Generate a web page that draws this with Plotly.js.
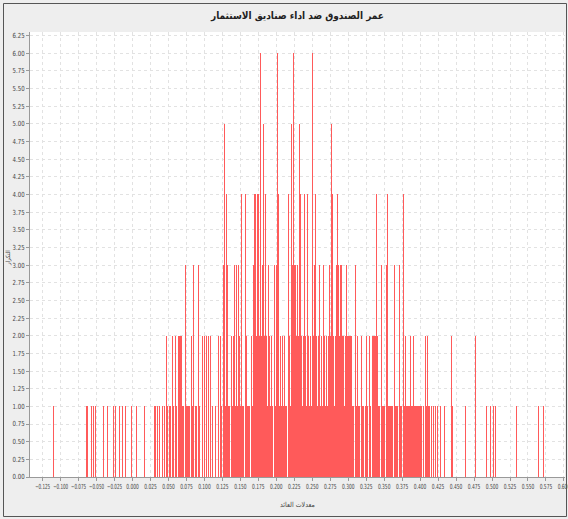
<!DOCTYPE html>
<html>
<head>
<meta charset="utf-8">
<script src="https://cdn.plot.ly/plotly-3.0.1.min.js"></script>
<style>
  html, body { margin: 0; padding: 0; background: #eeeeee; }
  #chart { width: 568px; height: 519px; }
</style>
</head>
<body>
<div id="chart"></div>
<script>
// ---- data ----
const chartTitle = "عمر الصندوق ضد اداء صناديق الاستثمار";
const xAxisTitle = "معدلات العائد";
const yAxisTitle = "التكرار";

const returns = [
 -0.1093,-0.0635,-0.0621,-0.0565,-0.0538,-0.0510,-0.0399,-0.0343,-0.0260,-0.0232,
 -0.0176,-0.0135,-0.0093,-0.0010,0.0060,0.0171,0.0310,0.0324,0.0351,0.0379,
 0.0421,0.0449,0.0476,0.0490,0.0518,0.0532,0.0560,0.0574,0.0601,0.0615,
 0.0643,0.0657,0.0671,0.0685,0.0699,0.0713,0.0740,0.0754,0.0768,0.0782,
 0.0796,0.0824,0.0838,0.0851,0.0879,0.0893,0.0921,0.0935,0.0976,0.1004,
 0.1032,0.1060,0.1088,0.1115,0.1157,0.1199,0.1226,0.1240,0.1268,0.1282,
 0.1296,0.1310,0.1324,0.1338,0.1351,0.1379,0.1393,0.1407,0.1421,0.1435,
 0.1449,0.1463,0.1476,0.1490,0.1504,0.1518,0.1532,0.1546,0.1574,0.1588,
 0.1601,0.1615,0.1629,0.1657,0.1671,0.1685,0.1699,0.1713,0.1726,0.1740,
 0.1754,0.1768,0.1782,0.1796,0.1810,0.1824,0.1838,0.1851,0.1865,0.1879,
 0.1893,0.1907,0.1921,0.1935,0.1949,0.1976,0.1990,0.2004,0.2018,0.2032,
 0.2046,0.2060,0.2074,0.2088,0.2101,0.2115,0.2129,0.2143,0.2171,0.2185,
 0.2199,0.2213,0.2226,0.2240,0.2254,0.2268,0.2282,0.2296,0.2310,0.2324,
 0.2338,0.2351,0.2365,0.2379,0.2393,0.2407,0.2421,0.2435,0.2449,0.2463,
 0.2476,0.2490,0.2504,0.2518,0.2532,0.2546,0.2560,0.2574,0.2588,0.2601,
 0.2615,0.2629,0.2643,0.2657,0.2671,0.2685,0.2699,0.2713,0.2726,0.2740,
 0.2754,0.2768,0.2782,0.2796,0.2810,0.2824,0.2838,0.2851,0.2865,0.2879,
 0.2893,0.2907,0.2921,0.2935,0.2949,0.2963,0.2976,0.2990,0.3004,0.3018,
 0.3032,0.3046,0.3060,0.3074,0.3101,0.3115,0.3129,0.3143,0.3157,0.3185,
 0.3199,0.3213,0.3240,0.3254,0.3268,0.3296,0.3310,0.3338,0.3351,0.3365,
 0.3379,0.3393,0.3407,0.3421,0.3435,0.3463,0.3476,0.3490,0.3504,0.3532,
 0.3546,0.3560,0.3574,0.3588,0.3601,0.3615,0.3643,0.3657,0.3671,0.3685,
 0.3713,0.3726,0.3740,0.3768,0.3782,0.3796,0.3810,0.3824,0.3838,0.3851,
 0.3865,0.3879,0.3893,0.3907,0.3921,0.3935,0.3949,0.3963,0.3976,0.3990,
 0.4004,0.4018,0.4046,0.4074,0.4088,0.4101,0.4115,0.4129,0.4157,0.4185,
 0.4213,0.4240,0.4282,0.4338,0.4435,0.4449,0.4629,0.4768,0.4921,0.4976,
 0.5018,0.5046,0.5338,0.5643,0.5713
];
const counts = [
 1,1,1,1,1,1,1,1,1,1,
 1,1,1,1,1,1,1,1,1,1,
 1,1,2,1,1,1,2,1,2,1,
 2,2,2,2,1,1,3,1,1,1,
 1,2,1,3,1,1,3,1,2,2,
 2,2,2,1,1,2,2,1,3,5,
 1,4,3,1,1,2,1,2,3,1,
 3,1,3,2,1,4,1,1,4,2,
 1,1,1,2,1,3,4,4,2,4,
 4,2,6,2,3,5,2,4,2,1,
 3,2,1,2,1,3,1,3,6,4,
 1,2,1,2,1,2,1,1,4,2,
 1,5,3,6,3,3,2,3,2,5,
 4,2,1,2,4,2,1,4,2,1,
 2,1,6,2,3,4,2,1,2,3,
 1,2,1,3,2,1,2,1,2,3,
 2,5,4,2,1,2,3,4,3,2,
 3,3,2,2,1,2,3,2,2,2,
 2,2,1,1,3,1,2,1,1,2,
 1,1,1,2,1,2,1,2,2,2,
 2,4,2,1,1,3,1,1,1,3,
 4,1,1,1,1,1,3,1,1,1,
 3,1,1,4,1,2,1,1,1,1,
 2,1,1,2,1,1,1,1,1,1,
 1,1,1,2,1,2,1,1,1,1,
 1,1,1,1,2,1,1,2,1,1,
 1,1,1,1,1
];
const xTickStart = -0.125, xTickStep = 0.025;
const yTickStep = 0.25;

// ---- figure geometry ----
const W = 568, H = 519;
const M = {l: 30, r: 3, t: 32, b: 42};
const pw = W - M.l - M.r, ph = H - M.t - M.b;
const px2paperX = p => (p - M.l) / pw;
const px2paperY = p => (H - M.b - p) / ph;

const tickFont = {family: "'DejaVu Sans Condensed', 'Liberation Sans Narrow', sans-serif", size: 7, color: '#444444'};

const trace = {
  type: 'bar',
  x: returns,
  y: counts,
  width: 0.0015,
  marker: {color: '#ff5a5a', line: {width: 0}},
  hoverinfo: 'x+y'
};

const layout = {
  width: W, height: H,
  margin: M,
  paper_bgcolor: '#eeeeee',
  plot_bgcolor: '#ffffff',
  showlegend: false,
  bargap: 0,
  title: {
    text: '<b>' + chartTitle + '</b>',
    x: 0.5, xref: 'paper', y: 1 - 15 / H, yanchor: 'middle',
    font: {family: "'DejaVu Sans Condensed', 'DejaVu Sans', 'Noto Sans', sans-serif", size: 10, color: '#222222'}
  },
  xaxis: {
    range: [-0.1426, 0.6015],
    tick0: xTickStart, dtick: xTickStep,
    tickformat: '.3f',
    tickangle: 0,
    ticklabeloverflow: 'allow',
    tickfont: tickFont,
    ticks: 'outside', ticklen: 3, tickcolor: '#999999',
    showgrid: true, gridcolor: '#e2e2e2', griddash: 'dot', gridwidth: 1,
    showline: true, linecolor: '#999999', linewidth: 1,
    zeroline: false,
    automargin: false
  },
  yaxis: {
    range: [0, 6.3],
    tick0: 0, dtick: yTickStep,
    tickformat: '.2f',
    tickangle: 0,
    tickfont: tickFont,
    ticks: 'outside', ticklen: 3, tickcolor: '#999999',
    showgrid: true, gridcolor: '#e2e2e2', griddash: 'dot', gridwidth: 1,
    showline: true, linecolor: '#999999', linewidth: 1,
    zeroline: false,
    automargin: false
  },
  annotations: [
    {text: xAxisTitle, xref: 'paper', yref: 'paper', x: 0.5, y: px2paperY(505),
     xanchor: 'center', yanchor: 'middle', showarrow: false,
     font: {family: "'DejaVu Sans Condensed', 'DejaVu Sans', sans-serif", size: 7, color: '#444444'}},
    {text: yAxisTitle, xref: 'paper', yref: 'paper', x: px2paperX(8), y: px2paperY(258),
     xanchor: 'center', yanchor: 'middle', textangle: -90, showarrow: false,
     font: {family: "'DejaVu Sans Condensed', 'DejaVu Sans', sans-serif", size: 6, color: '#444444'}}
  ],
  shapes: [
    {type: 'rect', xref: 'paper', yref: 'paper', layer: 'above',
     x0: px2paperX(3.5), x1: px2paperX(566.5), y0: px2paperY(516.5), y1: px2paperY(3.5),
     line: {color: '#555555', width: 1}, fillcolor: 'rgba(0,0,0,0)'}
  ]
};

Plotly.newPlot('chart', [trace], layout, {staticPlot: true, displayModeBar: false}).then(gd => {
  // squeeze the tick labels horizontally, like the narrow font of the original
  gd.querySelectorAll('.xtick text').forEach(t => {
    const n = t.textContent.length;
    t.setAttribute('textLength', String(n * 2.5));
    t.setAttribute('lengthAdjust', 'spacingAndGlyphs');
  });
  gd.querySelectorAll('.ytick text').forEach(t => {
    t.setAttribute('textLength', '12');
    t.setAttribute('lengthAdjust', 'spacingAndGlyphs');
  });
});
</script>
</body>
</html>
